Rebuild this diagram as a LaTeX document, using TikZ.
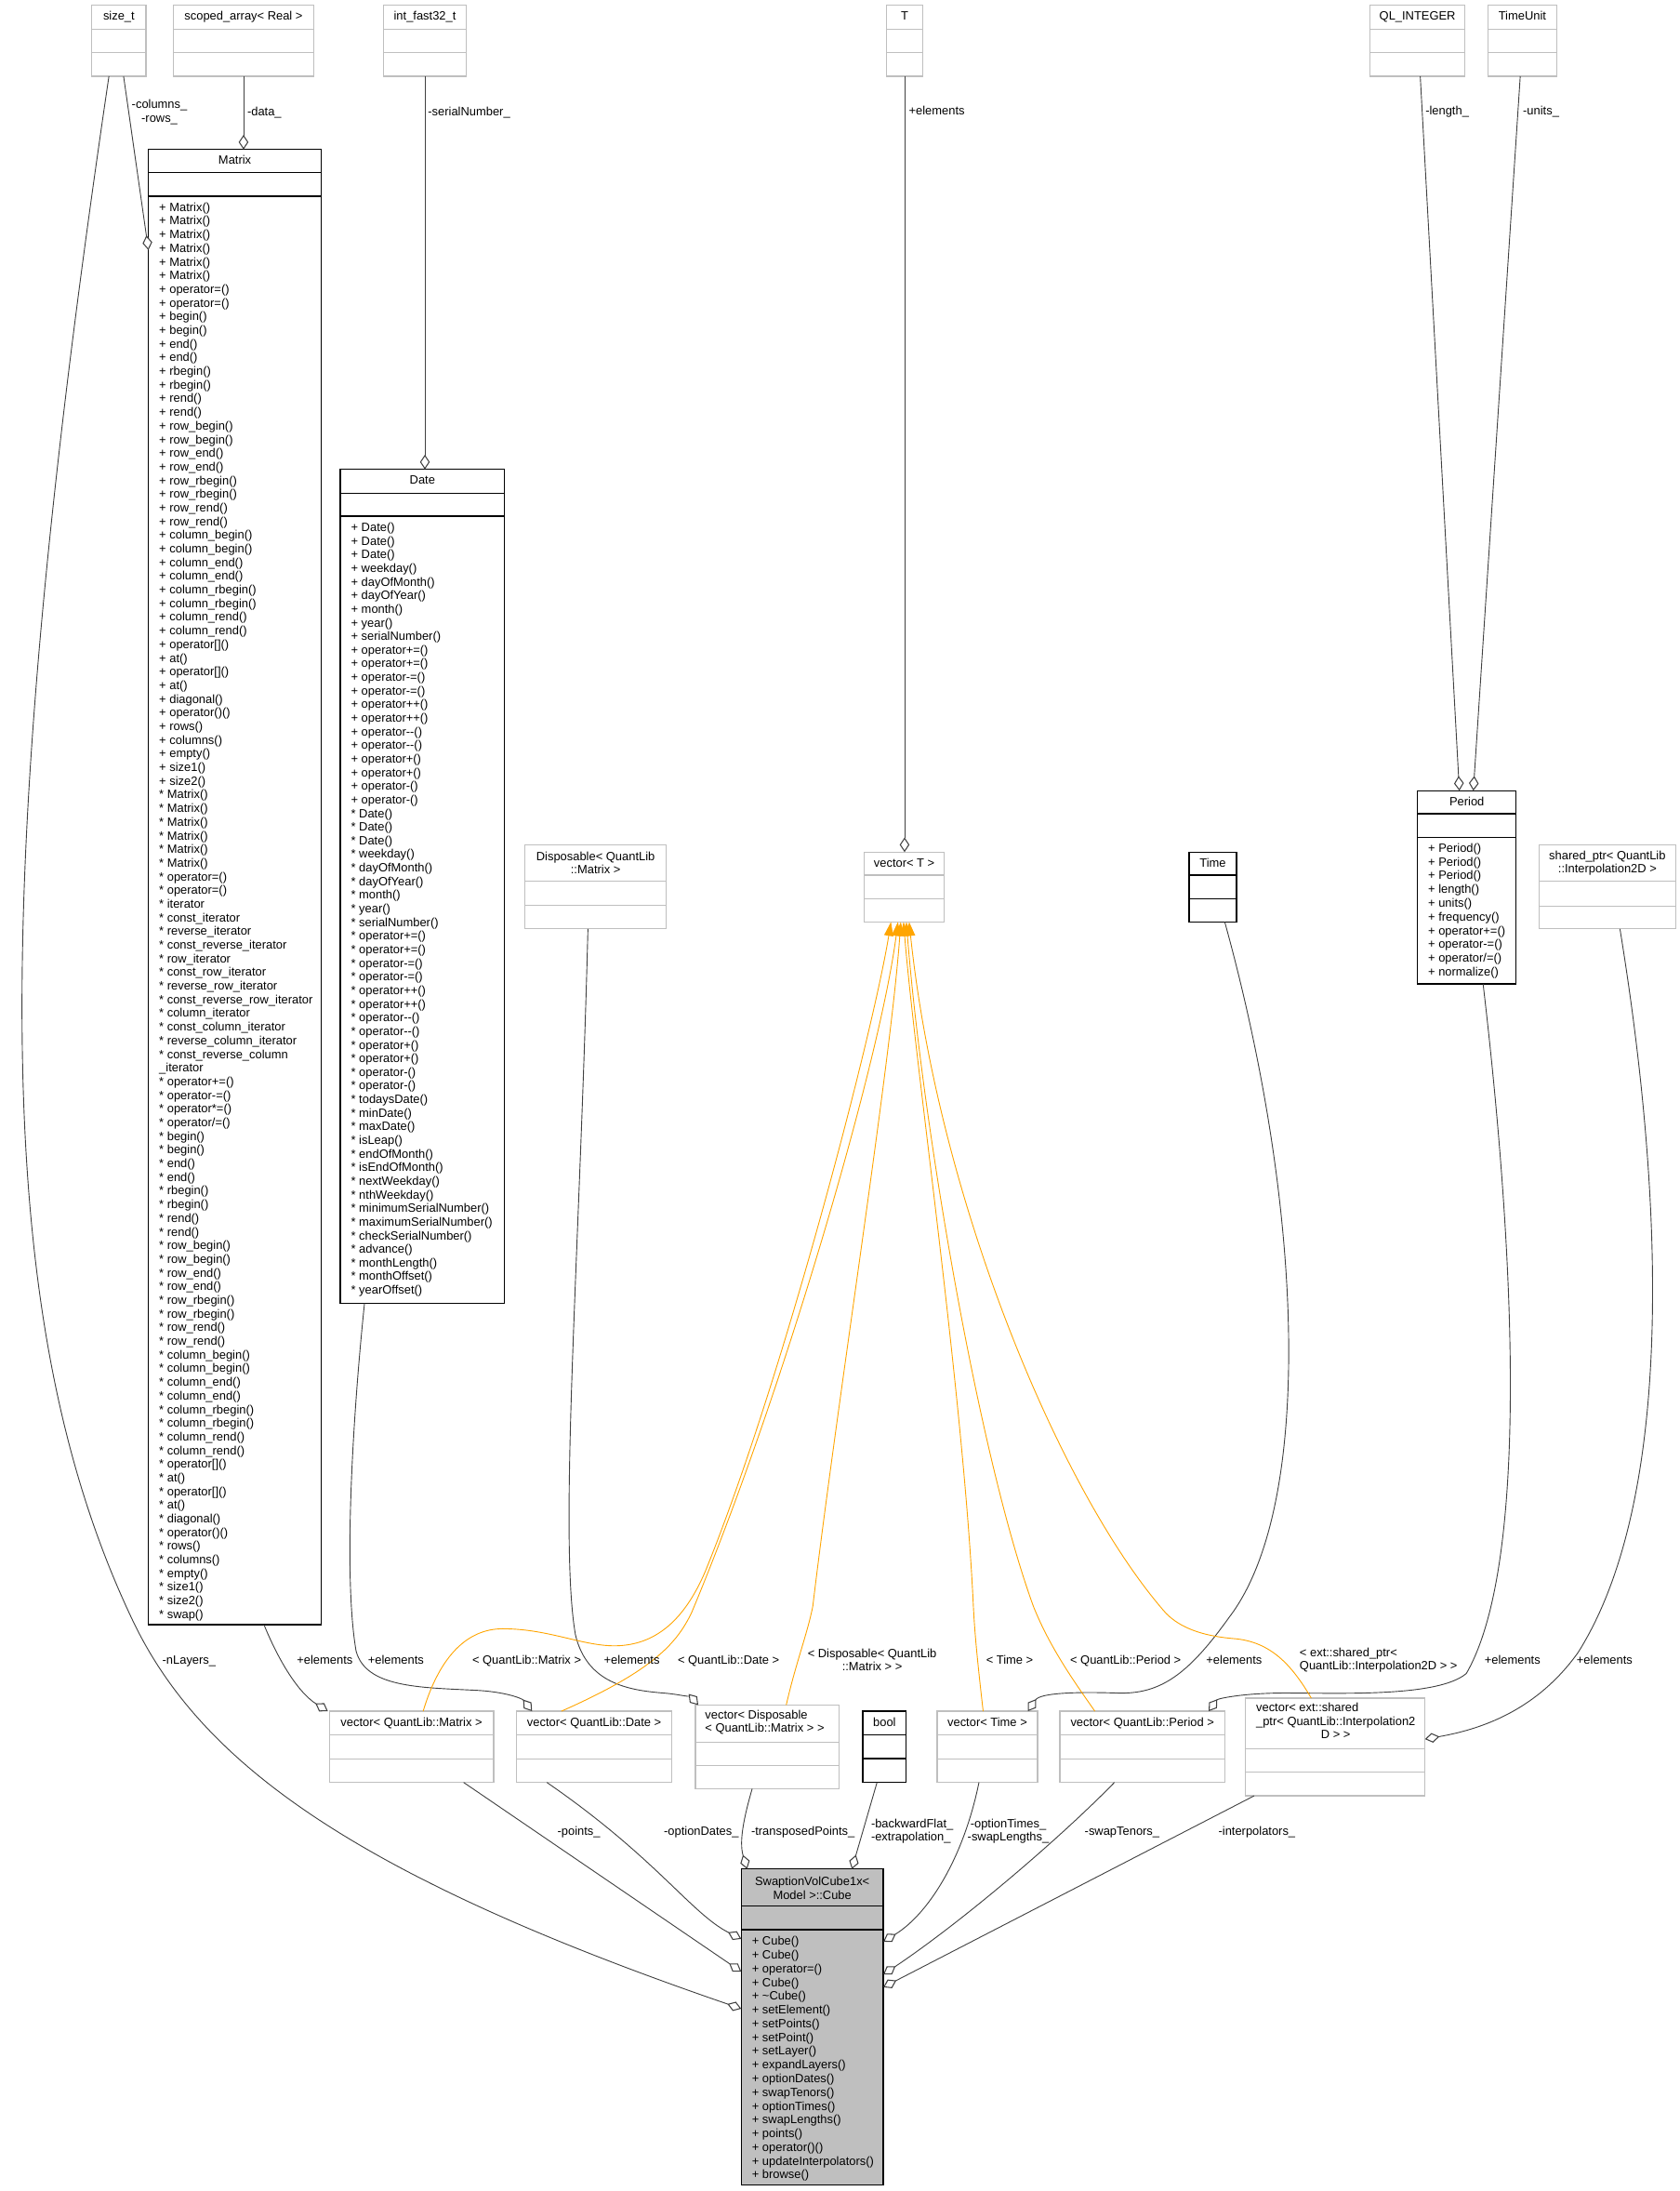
\documentclass[tikz,border=0pt]{standalone}
\usepackage{fontspec}
\setmainfont{Liberation Sans}
\usetikzlibrary{arrows.meta}
\definecolor{gborder}{HTML}{BFBFBF}
\definecolor{edgecol}{HTML}{404040}
\definecolor{tmplcol}{HTML}{FFA500}
\definecolor{cubefill}{HTML}{BFBFBF}
\newcommand\dxfont{\fontsize{8.6}{9.8}\selectfont}
\newcommand\dxfontb{\fontsize{8.6}{9.5}\selectfont}
\newcommand\umlbox[8]{%
  \node[#2, anchor=north west, minimum width=#5pt-#3pt, minimum height=#6pt-#4pt] (#1) at (#3,#4) {};
  \draw[#2 div] (#3,#7) -- (#5,#7) (#3,#8) -- (#5,#8);
}
\begin{document}
\begin{tikzpicture}[x=1pt,y=-1pt,
  gb/.style={draw=gborder, line width=0.8pt, fill=white, rectangle, inner sep=0pt, outer sep=0pt},
  gb div/.style={draw=gborder, line width=0.8pt},
  bb/.style={draw=black, line width=0.9pt, fill=white, rectangle, inner sep=0pt, outer sep=0pt},
  bb div/.style={draw=black, line width=0.9pt},
  cb/.style={draw=black, line width=0.9pt, fill=cubefill, rectangle, inner sep=0pt, outer sep=0pt},
  cb div/.style={draw=black, line width=0.9pt},
  title/.style={font=\dxfont, inner sep=0pt, text height=6.3pt, text depth=1.8pt},
  mtitle/.style={font=\dxfont, inner sep=0pt, align=center},
  memb/.style={font=\dxfont, inner sep=0pt, anchor=north west},
  lbl/.style={font=\dxfont, inner sep=0pt, text height=6.3pt, text depth=1.8pt},
  mlbl/.style={font=\dxfontb, inner sep=0pt, align=center},
  assoc/.style={draw=edgecol, line width=0.6pt, -{Diamond[length=10.5pt,width=7pt,fill=white,line width=0.7pt]}},
  tmpl/.style={draw=tmplcol, line width=0.6pt, -{Triangle[length=10pt,width=6.5pt]}},
]
\fill[white] (0,0) rectangle (1203,1568.5);
\useasboundingbox (0,0) rectangle (1203,1568.5);

% ---------- boxes ----------
\umlbox{sizet}{gb}{65.8}{3.6}{104.5}{54.6}{20.9}{37.7}
\umlbox{scoped}{gb}{124}{3.6}{224.8}{54.6}{20.9}{37.7}
\umlbox{intfast}{gb}{274.5}{3.6}{334}{54.6}{20.9}{37.7}
\umlbox{tbox}{gb}{635}{3.6}{660.5}{54.6}{20.9}{37.7}
\umlbox{qlint}{gb}{981}{3.6}{1049}{54.6}{20.9}{37.7}
\umlbox{timeunit}{gb}{1065.6}{3.6}{1114.6}{54.6}{20.9}{37.7}
\umlbox{matrix}{bb}{106.3}{107}{230}{1163}{123.4}{140.5}
\umlbox{date}{bb}{243.7}{336}{361.3}{933}{353}{369.5}
\umlbox{disp}{gb}{376}{605}{477}{665}{631}{648}
\umlbox{vect}{gb}{619}{610}{676}{660}{626.5}{643.6}
\umlbox{time}{bb}{851.5}{610}{885.5}{660}{626.5}{643.6}
\umlbox{period}{bb}{1015}{566}{1085.7}{704.4}{582.6}{599.6}
\umlbox{shptr}{gb}{1102}{605}{1200}{665}{631}{648.6}
\umlbox{vmat}{gb}{235.8}{1225}{353.5}{1276}{1242}{1259}
\umlbox{vdate}{gb}{370}{1225}{481}{1276}{1242}{1259}
\umlbox{vdisp}{gb}{498}{1220.6}{601}{1280.5}{1247.2}{1263.9}
\umlbox{boolbox}{bb}{617.8}{1225}{648.9}{1276}{1242}{1259}
\umlbox{vtime}{gb}{671}{1225}{743}{1276}{1242}{1259}
\umlbox{vperiod}{gb}{759}{1225}{877}{1276}{1242}{1259}
\umlbox{vext}{gb}{892}{1215.7}{1020.4}{1285.6}{1252}{1268.7}
\umlbox{cube}{cb}{530.8}{1338}{632.5}{1564}{1364.4}{1381.5}

% ---------- titles ----------
\node[title] (sizet-h) at (85.15,12.25) {size\_t};
\node[title] (scoped-h) at (174.4,12.25) {scoped\_array< Real >};
\node[title] (intfast-h) at (304.25,12.25) {int\_fast32\_t};
\node[title] (tbox-h) at (647.75,12.25) {T};
\node[title] (qlint-h) at (1015,12.25) {QL\_INTEGER};
\node[title] (timeunit-h) at (1090.1,12.25) {TimeUnit};
\node[title] (matrix-h) at (168.15,115.2) {Matrix};
\node[title] (date-h) at (302.5,344.5) {Date};
\node[mtitle, font=\dxfontb] (disp-h) at (426.5,617.8) {Disposable< QuantLib\\::Matrix >};
\node[title] (vect-h) at (647.5,618.25) {vector< T >};
\node[title] (time-h) at (868.5,618.25) {Time};
\node[title] (period-h) at (1050.35,574.3) {Period};
\node[mtitle, font=\dxfontb] (shptr-h) at (1151,617.8) {shared\_ptr< QuantLib\\::Interpolation2D >};
\node[title] (vmat-h) at (294.65,1233.5) {vector< QuantLib::Matrix >};
\node[title] (vdate-h) at (425.5,1233.5) {vector< QuantLib::Date >};
\node[mtitle, align=left, anchor=west, font=\fontsize{8.6}{9.7}\selectfont] (vdisp-h) at (504.7,1232.9) {vector< Disposable\\< QuantLib::Matrix > >};
\node[title] (bool-h) at (633.35,1233.5) {bool};
\node[title] (vtime-h) at (707,1233.5) {vector< Time >};
\node[title] (vperiod-h) at (818,1233.5) {vector< QuantLib::Period >};
\node[title, anchor=west] (vext-h1) at (899.3,1223.3) {vector< ext::shared};
\node[title, anchor=west] (vext-h2) at (899.3,1233.3) {\_ptr< QuantLib::Interpolation2};
\node[title] (vext-h3) at (956.5,1242.6) {D > >};
\node[mtitle] (cube-h) at (581.65,1351.5) {SwaptionVolCube1x<\\Model >::Cube};

% ---------- members ----------
\node[memb, font=\fontsize{8.6}{9.78}\selectfont] (matrix-m) at (113.8,144.25) {\begin{tabular}{@{}l@{}}+ Matrix()\\+ Matrix()\\+ Matrix()\\+ Matrix()\\+ Matrix()\\+ Matrix()\\
+ operator=()\\+ operator=()\\+ begin()\\+ begin()\\+ end()\\+ end()\\+ rbegin()\\+ rbegin()\\+ rend()\\+ rend()\\
+ row\_begin()\\+ row\_begin()\\+ row\_end()\\+ row\_end()\\+ row\_rbegin()\\+ row\_rbegin()\\+ row\_rend()\\+ row\_rend()\\
+ column\_begin()\\+ column\_begin()\\+ column\_end()\\+ column\_end()\\+ column\_rbegin()\\+ column\_rbegin()\\+ column\_rend()\\+ column\_rend()\\
+ operator[]()\\+ at()\\+ operator[]()\\+ at()\\+ diagonal()\\+ operator()()\\+ rows()\\+ columns()\\+ empty()\\+ size1()\\+ size2()\\
{}* Matrix()\\{}* Matrix()\\{}* Matrix()\\{}* Matrix()\\{}* Matrix()\\{}* Matrix()\\{}* operator=()\\{}* operator=()\\
{}* iterator\\{}* const\_iterator\\{}* reverse\_iterator\\{}* const\_reverse\_iterator\\{}* row\_iterator\\{}* const\_row\_iterator\\
{}* reverse\_row\_iterator\\{}* const\_reverse\_row\_iterator\\{}* column\_iterator\\{}* const\_column\_iterator\\{}* reverse\_column\_iterator\\
{}* const\_reverse\_column\\\_iterator\\{}* operator+=()\\{}* operator-=()\\{}* operator*=()\\{}* operator/=()\\
{}* begin()\\{}* begin()\\{}* end()\\{}* end()\\{}* rbegin()\\{}* rbegin()\\{}* rend()\\{}* rend()\\
{}* row\_begin()\\{}* row\_begin()\\{}* row\_end()\\{}* row\_end()\\{}* row\_rbegin()\\{}* row\_rbegin()\\{}* row\_rend()\\{}* row\_rend()\\
{}* column\_begin()\\{}* column\_begin()\\{}* column\_end()\\{}* column\_end()\\{}* column\_rbegin()\\{}* column\_rbegin()\\{}* column\_rend()\\{}* column\_rend()\\
{}* operator[]()\\{}* at()\\{}* operator[]()\\{}* at()\\{}* diagonal()\\{}* operator()()\\{}* rows()\\{}* columns()\\{}* empty()\\{}* size1()\\{}* size2()\\{}* swap()\end{tabular}};

\node[memb, font=\fontsize{8.6}{9.75}\selectfont] (date-m) at (251.2,373.45) {\begin{tabular}{@{}l@{}}+ Date()\\+ Date()\\+ Date()\\+ weekday()\\+ dayOfMonth()\\+ dayOfYear()\\+ month()\\+ year()\\+ serialNumber()\\
+ operator+=()\\+ operator+=()\\+ operator-=()\\+ operator-=()\\+ operator++()\\+ operator++()\\+ operator-{}-()\\+ operator-{}-()\\
+ operator+()\\+ operator+()\\+ operator-()\\+ operator-()\\
{}* Date()\\{}* Date()\\{}* Date()\\{}* weekday()\\{}* dayOfMonth()\\{}* dayOfYear()\\{}* month()\\{}* year()\\{}* serialNumber()\\
{}* operator+=()\\{}* operator+=()\\{}* operator-=()\\{}* operator-=()\\{}* operator++()\\{}* operator++()\\{}* operator-{}-()\\{}* operator-{}-()\\
{}* operator+()\\{}* operator+()\\{}* operator-()\\{}* operator-()\\
{}* todaysDate()\\{}* minDate()\\{}* maxDate()\\{}* isLeap()\\{}* endOfMonth()\\{}* isEndOfMonth()\\{}* nextWeekday()\\{}* nthWeekday()\\
{}* minimumSerialNumber()\\{}* maximumSerialNumber()\\{}* checkSerialNumber()\\{}* advance()\\{}* monthLength()\\{}* monthOffset()\\{}* yearOffset()\end{tabular}};

\node[memb, font=\fontsize{8.6}{9.85}\selectfont] (period-m) at (1022.5,602.95) {\begin{tabular}{@{}l@{}}+ Period()\\+ Period()\\+ Period()\\+ length()\\+ units()\\+ frequency()\\+ operator+=()\\+ operator-=()\\+ operator/=()\\+ normalize()\end{tabular}};

\node[memb, font=\fontsize{8.6}{9.84}\selectfont] (cube-m) at (538.3,1385.45) {\begin{tabular}{@{}l@{}}+ Cube()\\+ Cube()\\+ operator=()\\+ Cube()\\+ \textasciitilde Cube()\\+ setElement()\\+ setPoints()\\+ setPoint()\\+ setLayer()\\+ expandLayers()\\+ optionDates()\\+ swapTenors()\\+ optionTimes()\\+ swapLengths()\\+ points()\\+ operator()()\\+ updateInterpolators()\\+ browse()\end{tabular}};

% ---------- member edges ----------
\draw[assoc] ([xshift=-7.15pt]sizet.south) .. controls (-10,650) and (-5,950) .. (95,1160) .. controls (145,1265) and (260,1345) .. ([yshift=-100pt]cube.north west);
\draw[assoc] ([xshift=3.35pt]sizet.south) -- ([yshift=-72pt]matrix.north west);
\draw[assoc] (scoped.south) -- (scoped.south |- matrix.north);
\draw[assoc] (intfast.south) -- (intfast.south |- date.north);
\draw[assoc] (tbox.south) -- (tbox.south |- vect.north);
\draw[assoc] ([xshift=2pt]qlint.south) -- ([xshift=30pt]period.north west);
\draw[assoc] ([xshift=-1.5pt]timeunit.south) -- ([xshift=40pt]period.north west);
\draw[assoc] ([xshift=82.7pt]matrix.south west) .. controls (200,1190) and (214,1212) .. ([xshift=-1pt]vmat.north west);
\draw[assoc] ([xshift=17.3pt]date.south west) .. controls (252,1020) and (246,1130) .. (255,1182) .. controls (262,1208) and (300,1208) .. (340,1210) .. controls (362,1211) and (374,1216) .. ([xshift=11pt]vdate.north west);
\draw[assoc] ([xshift=-5.5pt]disp.south) .. controls (415,900) and (400,1100) .. (412,1170) .. controls (420,1205) and (450,1210) .. (475,1212) .. controls (488,1213) and (496,1216) .. ([xshift=2pt]vdisp.north west);
\draw[assoc] ([xshift=8.5pt]time.south) .. controls (935,870) and (940,1080) .. (880,1158) .. controls (850,1200) and (830,1213) .. (800,1212) .. controls (770,1211) and (745,1212) .. ([xshift=-7pt]vtime.north east);
\draw[assoc] ([xshift=11.65pt]period.south) .. controls (1085,900) and (1095,1120) .. (1050,1198) .. controls (1030,1215) and (960,1212) .. (920,1212) .. controls (890,1212) and (872,1216) .. ([xshift=-11.5pt]vperiod.north east);
\draw[assoc] ([xshift=9pt]shptr.south) .. controls (1195,880) and (1195,1080) .. (1130,1183) .. controls (1100,1225) and (1060,1238) .. ([yshift=-29.3pt]vext.north east);

% ---------- template edges ----------
\draw[tmpl] ([xshift=8.35pt]vmat.north) .. controls (315,1185) and (335,1166) .. (360,1166) .. controls (395,1166) and (420,1180) .. (445,1178) .. controls (470,1176) and (490,1160) .. (505,1125) .. controls (560,990) and (625,740) .. ([xshift=-9.5pt]vect.south);
\draw[tmpl] ([xshift=-23.5pt]vdate.north) .. controls (470,1195) and (485,1175) .. (495,1155) .. controls (560,1000) and (630,760) .. ([xshift=-4.5pt]vect.south);
\draw[tmpl] ([xshift=13.5pt]vdisp.north) .. controls (570,1190) and (578,1170) .. (582,1150) .. controls (600,1000) and (638,760) .. ([xshift=-2.5pt]vect.south);
\draw[tmpl] ([xshift=-3pt]vtime.north) .. controls (700,1190) and (698,1170) .. (697,1150) .. controls (690,1000) and (655,760) .. ([xshift=-0.5pt]vect.south);
\draw[tmpl] ([xshift=-34pt]vperiod.north) .. controls (770,1205) and (752,1180) .. (740,1150) .. controls (700,1040) and (660,800) .. ([xshift=1.5pt]vect.south);
\draw[tmpl] ([xshift=-17.2pt]vext.north) .. controls (925,1192) and (910,1175) .. (883,1173) .. controls (860,1171) and (845,1165) .. (835,1155) .. controls (760,1070) and (672,860) .. ([xshift=3.5pt]vect.south);

% ---------- edges into Cube ----------
\draw[assoc] ([xshift=37.35pt]vmat.south) -- ([yshift=-73.5pt]cube.north west);
\draw[assoc] ([xshift=-33.9pt]vdate.south) .. controls (470,1330) and (495,1370) .. ([yshift=-50pt]cube.north west);
\draw[assoc] ([xshift=-10.9pt]vdisp.south) .. controls (533,1300) and (529,1318) .. ([xshift=4.2pt]cube.north west);
\draw[assoc] ([xshift=-5.35pt]boolbox.south) -- ([xshift=-22.5pt]cube.north east);
\draw[assoc] ([xshift=-6pt]vtime.south) .. controls (690,1330) and (665,1370) .. ([yshift=-52pt]cube.north east);
\draw[assoc] ([xshift=-20pt]vperiod.south) .. controls (760,1315) and (690,1375) .. ([yshift=-75.5pt]cube.north east);
\draw[assoc] ([xshift=-58.2pt]vext.south) -- ([yshift=-84.6pt]cube.north east);

% ---------- labels ----------
\node[mlbl] (l-colrows) at (114.2,80.3) {-columns\_\\-rows\_};
\node[lbl] (l-data) at (189.3,80.5) {-data\_};
\node[lbl] (l-serial) at (335.9,80.5) {-serialNumber\_};
\node[lbl] (l-telem) at (670.8,80.3) {+elements};
\node[lbl] (l-length) at (1036.3,80.3) {-length\_};
\node[lbl] (l-units) at (1103.5,80.3) {-units\_};
\node[lbl] (l-nlayers) at (135.4,1189) {-nLayers\_};
\node[lbl] (l-elmat) at (232.6,1189) {+elements};
\node[lbl] (l-eldate) at (283.5,1189) {+elements};
\node[lbl] (l-qlmat) at (377.2,1189) {< QuantLib::Matrix >};
\node[lbl] (l-eldisp) at (452.4,1189) {+elements};
\node[lbl] (l-qldate) at (521.7,1189) {< QuantLib::Date >};
\node[mlbl] (l-disp) at (624.5,1188.5) {< Disposable< QuantLib\\::Matrix > >};
\node[lbl] (l-time) at (723,1189) {< Time >};
\node[lbl] (l-qlper) at (806,1189) {< QuantLib::Period >};
\node[lbl] (l-eltime) at (883.7,1189) {+elements};
\node[mlbl, align=left, anchor=west] (l-ext) at (930.5,1188.5) {< ext::shared\_ptr<\\QuantLib::Interpolation2D > >};
\node[lbl] (l-elper) at (1083,1189) {+elements};
\node[lbl] (l-elsh) at (1149,1189) {+elements};
\node[lbl] (l-points) at (414.5,1311.6) {-points\_};
\node[lbl] (l-optd) at (502.2,1311.6) {-optionDates\_};
\node[lbl] (l-transp) at (575,1311.6) {-transposedPoints\_};
\node[mlbl, align=left, anchor=west] (l-bool) at (623.6,1310.8) {-backwardFlat\_\\-extrapolation\_};
\node[mlbl] (l-optt) at (722,1311) {-optionTimes\_\\-swapLengths\_};
\node[lbl] (l-swapt) at (803.5,1311.6) {-swapTenors\_};
\node[lbl] (l-interp) at (900,1311.6) {-interpolators\_};
\end{tikzpicture}
\end{document}
